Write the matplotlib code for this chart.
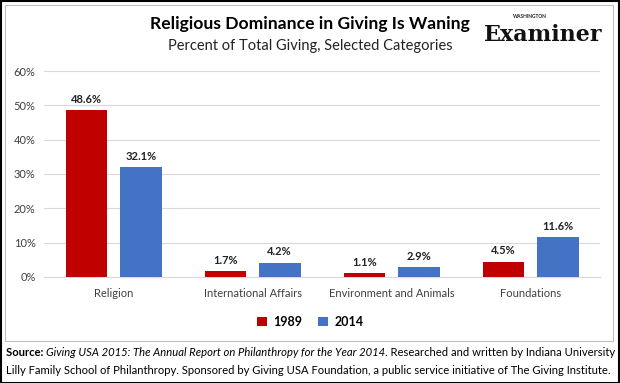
import numpy as np
import matplotlib.pyplot as plt
from matplotlib.patches import Rectangle
from matplotlib.ticker import PercentFormatter

plt.rcParams['font.family'] = ['Lato', 'DejaVu Sans']

categories = ['Religion', 'International Affairs', 'Environment and Animals', 'Foundations']
years = ['1989', '2014']
share_1989 = [48.6, 1.7, 1.1, 4.5]
share_2014 = [32.1, 4.2, 2.9, 11.6]
colors = ['#C00000', '#4472C4']

fig = plt.figure(figsize=(6.2, 3.83), dpi=100)
ax = fig.add_axes([0.071, 0.2768, 0.897, 0.5378])

x = np.arange(len(categories))
w = 0.30
gap = 0.09
for i, (vals, c) in enumerate(zip([share_1989, share_2014], colors)):
    pos = x + (i - 0.5) * (w + gap)
    ax.bar(pos, vals, width=w, color=c, label=years[i], zorder=3)
    for p, v in zip(pos, vals):
        ax.text(p, v + 1.5, f'{v:.1f}%', ha='center', va='bottom',
                fontsize=8, fontweight='bold', color='#222222')

ax.set_ylim(0, 60)
ax.set_xlim(-0.5, 3.5)
ax.set_yticks(np.arange(0, 61, 10))
ax.yaxis.set_major_formatter(PercentFormatter(decimals=0))
ax.set_xticks(x)
ax.set_xticklabels(categories)
ax.tick_params(axis='both', length=0, labelsize=8, colors='#404040', pad=6)
ax.tick_params(axis='x', pad=8)
ax.grid(axis='y', color='#D9D9D9', linewidth=0.8, zorder=0)
for s in ['top', 'right', 'left']:
    ax.spines[s].set_visible(False)
ax.spines['bottom'].set_color('#D9D9D9')

leg = fig.legend(loc='center', bbox_to_anchor=(0.5, 1 - 322 / 383), ncol=2, frameon=False,
                 handlelength=0.8, handleheight=0.8, columnspacing=1.3, handletextpad=0.5,
                 prop={'weight': 'bold', 'size': 9})

fig.text(0.5, 1 - 24 / 383, 'Religious Dominance in Giving Is Waning', ha='center', va='center',
         fontsize=12.6, fontweight='bold', color='black')
fig.text(0.5, 1 - 46 / 383, 'Percent of Total Giving, Selected Categories', ha='center', va='center',
         fontsize=10.5, color='#222222')

# logo stand-in
fig.text(543 / 620, 1 - 35 / 383, 'Examiner', ha='center', va='center', fontsize=16,
         family='DejaVu Serif', fontweight='bold', color='#111111')
fig.text(530 / 620, 1 - 16 / 383, 'WASHINGTON', ha='center', va='center', fontsize=3.5,
         fontweight='bold', color='#222222')

# chart border and outer border
fig.patches.append(Rectangle((5 / 620, 1 - 341 / 383), 608 / 620, 336 / 383, transform=fig.transFigure,
                             fill=False, edgecolor='#BFBFBF', linewidth=0.8))
fig.patches.append(Rectangle((0.001, 0.001), 0.998, 0.997, transform=fig.transFigure,
                             fill=False, edgecolor='black', linewidth=1.5))

# source lines with mixed styles
fs = 8.1
t1 = fig.text(6 / 620, 1 - 352 / 383, 'Source: ', fontsize=fs, fontweight='bold', va='center', color='black')
t2 = fig.text(0, 0, 'Giving USA 2015: The Annual Report on Philanthropy for the Year 2014', fontsize=fs,
              style='italic', va='center')
fig.canvas.draw()
r = fig.canvas.get_renderer()
bb = t1.get_window_extent(r)
t2.set_x(bb.x1 / fig.bbox.width)
t2.set_y(1 - 352 / 383)
bb2 = t2.get_window_extent(r)
fig.text(bb2.x1 / fig.bbox.width, 1 - 352 / 383,
         '. Researched and written by Indiana University', fontsize=fs, va='center')
fig.text(6 / 620, 1 - 370 / 383,
         'Lilly Family School of Philanthropy. Sponsored by Giving USA Foundation, a public service initiative of The Giving Institute.',
         fontsize=fs, va='center')

fig.savefig('out.png', dpi=100)
